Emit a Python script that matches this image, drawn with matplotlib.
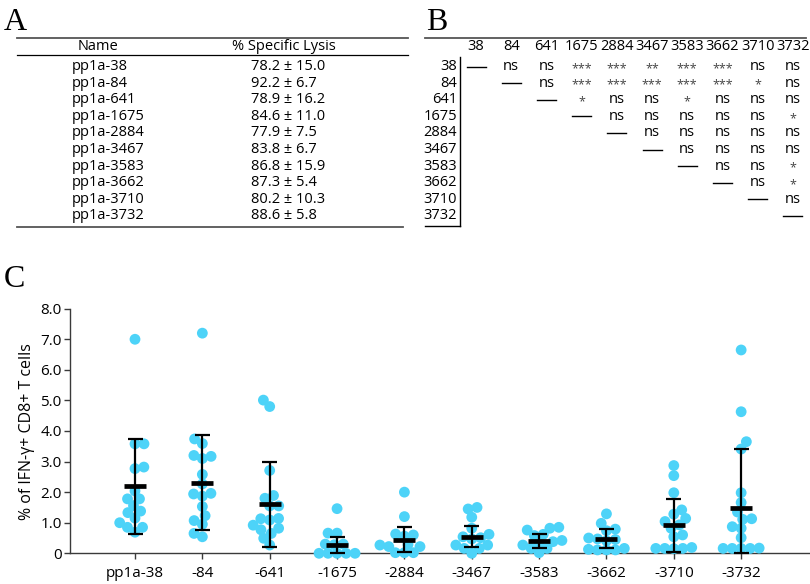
import numpy as np
import matplotlib
matplotlib.use("Agg")
import matplotlib.pyplot as plt
from matplotlib.lines import Line2D

# ---------------- data ----------------
peptides = ['pp1a-38', 'pp1a-84', 'pp1a-641', 'pp1a-1675', 'pp1a-2884',
            'pp1a-3467', 'pp1a-3583', 'pp1a-3662', 'pp1a-3710', 'pp1a-3732']
lysis_text = ['78.2 \u00b1 15.0', '92.2 \u00b1 6.7', '78.9 \u00b1 16.2', '84.6 \u00b1 11.0',
              '77.9 \u00b1 7.5', '83.8 \u00b1 6.7', '86.8 \u00b1 15.9', '87.3 \u00b1 5.4',
              '80.2 \u00b1 10.3', '88.6 \u00b1 5.8']
short_ids = ['38', '84', '641', '1675', '2884', '3467', '3583', '3662', '3710', '3732']
# upper triangle of significance table (row i, columns i+1 .. end)
sig_rows = [
    ['ns', 'ns', '***', '***', '**', '***', '***', 'ns', 'ns'],
    ['ns', '***', '***', '***', '***', '***', '*', 'ns'],
    ['*', 'ns', 'ns', '*', 'ns', 'ns', 'ns'],
    ['ns', 'ns', 'ns', 'ns', 'ns', '*'],
    ['ns', 'ns', 'ns', 'ns', 'ns'],
    ['ns', 'ns', 'ns', 'ns'],
    ['ns', 'ns', '*'],
    ['ns', '*'],
    ['ns'],
    [],
]

xlabels = ['pp1a-38', '-84', '-641', '-1675', '-2884', '-3467', '-3583', '-3662', '-3710', '-3732']
v38 = [7.0, 3.58, 3.58, 2.82, 2.77, 2.04, 1.78, 1.78, 1.56, 1.38, 1.33, 1.15, 1.0, 0.85, 0.85, 0.69]
v84 = [7.2, 3.74, 3.59, 3.2, 3.17, 3.1, 2.58, 2.27, 1.96, 1.94, 1.87, 1.53, 1.23, 1.07, 0.95, 0.65, 0.54]
v641 = [5.01, 4.8, 2.71, 1.89, 1.8, 1.55, 1.55, 1.14, 1.13, 1.09, 0.92, 0.82, 0.77, 0.65, 0.49, 0.27]
v1675 = [1.46, 0.66, 0.66, 0.3, 0.3, 0.28, 0.0, 0.0, 0.0, 0.0, 0.0]
v2884 = [2.0, 1.2, 0.63, 0.6, 0.56, 0.29, 0.27, 0.22, 0.22, 0.02, 0.02, 0.02]
v3467 = [1.5, 1.45, 1.18, 0.82, 0.62, 0.54, 0.51, 0.47, 0.27, 0.27, 0.16, 0.16, 0.0]
v3583 = [0.85, 0.82, 0.76, 0.62, 0.58, 0.42, 0.38, 0.33, 0.27, 0.16, 0.16, 0.02]
v3662 = [1.29, 0.98, 0.79, 0.74, 0.5, 0.47, 0.45, 0.41, 0.16, 0.11, 0.11, 0.11, 0.13]
v3710 = [2.87, 2.54, 1.98, 1.42, 1.28, 1.14, 1.04, 0.93, 0.82, 0.6, 0.54, 0.19, 0.16, 0.16, 0.16, 0.15]
v3732 = [6.65, 4.63, 3.65, 3.41, 1.98, 1.66, 1.35, 1.13, 1.11, 0.87, 0.82, 0.51, 0.17, 0.16, 0.16, 0.16, 0.16]
group_values = [v38, v84, v641, v1675, v2884, v3467, v3583, v3662, v3710, v3732]
means = [2.19, 2.31, 1.60, 0.27, 0.45, 0.54, 0.39, 0.47, 0.92, 1.48]
sds = [1.56, 1.56, 1.40, 0.27, 0.41, 0.34, 0.23, 0.31, 0.87, 1.93]
yticks = [0, 1, 2, 3, 4, 5, 6, 7, 8]
ytick_labels = ['0', '1.0', '2.0', '3.0', '4.0', '5.0', '6.0', '7.0', '8.0']

# ---------------- figure ----------------
W, H = 810, 584
fig = plt.figure(figsize=(W / 100, H / 100), dpi=100)
SANS = ['Open Sans', 'DejaVu Sans']
SERIF = ['Liberation Serif', 'DejaVu Serif']
TFS = 10.5

def fx(x):
    return x / W

def fy(y):
    return 1 - y / H

def hline(x0, x1, y, lw=1.0, color='black'):
    fig.add_artist(Line2D([fx(x0), fx(x1)], [fy(y), fy(y)], lw=lw, color=color,
                          transform=fig.transFigure))

def vline(x, y0, y1, lw=1.0, color='black'):
    fig.add_artist(Line2D([fx(x), fx(x)], [fy(y0), fy(y1)], lw=lw, color=color,
                          transform=fig.transFigure))

def txt(x, y, s, ha='left', size=TFS, **kw):
    fig.text(fx(x), fy(y), s, ha=ha, va='center', fontsize=size, family=SANS, **kw)

# panel letters
for lab, x, y in [('A', 4, 22), ('B', 426, 22), ('C', 4, 280)]:
    fig.text(fx(x), fy(y), lab, ha='left', va='center', fontsize=23, family=SERIF)

row_y0, row_dy = 66.5, 16.6
header_y = 47

# ---- table A ----
hline(17, 408, 38, lw=1.3, color='#555555')
hline(17, 408, 55, lw=0.9)
txt(98, header_y, 'Name', ha='center')
txt(284, header_y, '% Specific Lysis', ha='center')
for i, (p, s) in enumerate(zip(peptides, lysis_text)):
    y = row_y0 + row_dy * i
    txt(72, y, p)
    txt(251, y, s)
hline(17, 403, row_y0 + row_dy * 9.65, lw=1.3, color='#555555')

# ---- table B ----
col_x0, col_dx = 476, 35.2
hline(425, 806, 38, lw=1.3, color='#555555')
for j, c in enumerate(short_ids):
    txt(col_x0 + col_dx * j, header_y, c, ha='center')
bottom_B = row_y0 + row_dy * 9.6
vline(460, 57, bottom_B, lw=1.0)
hline(425, 460, bottom_B, lw=1.0)
for i, c in enumerate(short_ids):
    y = row_y0 + row_dy * i
    txt(457, y, c, ha='right')
    cx = col_x0 + col_dx * i
    hline(cx - 9.5, cx + 9.5, y, lw=1.0)
    for k, s in enumerate(sig_rows[i]):
        x = col_x0 + col_dx * (i + 1 + k)
        if 'n' in s:
            txt(x, y, s, ha='center')
        else:
            fig.text(fx(x), fy(y + 2), s, ha='center', va='center', fontsize=9,
                     family=SANS, color='#444444')

# ---- panel C ----
ax_left, ax_right, ax_top, ax_bot = 70, 810, 308.7, 553.3
ax = fig.add_axes([fx(ax_left), fy(ax_bot), fx(ax_right) - fx(ax_left), (ax_bot - ax_top) / H])
x_step_px = 67.35
first_px = 135
xmin = -(first_px - ax_left) / x_step_px
xmax = (ax_right - first_px) / x_step_px
ax.set_xlim(xmin, xmax)
ax.set_ylim(0, 8)
ypx = (ax_bot - ax_top) / 8.0

marker_d = 10.8
color_pts = '#4DD3F8'

def swarm(vals, d):
    ys = np.asarray(vals, float) * ypx
    order = np.argsort(ys)
    placed = []
    xs = np.zeros(len(ys))
    for n, i in enumerate(order):
        y = ys[i]
        cands = [0.0]
        for (px, py) in placed:
            dy = abs(py - y)
            if dy < d:
                dx = np.sqrt(d * d - dy * dy)
                cands += [px - dx, px + dx]
        sign = 1 if n % 2 else -1
        cands = sorted(cands, key=lambda c: (round(abs(c), 6), sign * c))
        for c in cands:
            if all((c - px) ** 2 + (y - py) ** 2 >= d * d - 1e-6 for px, py in placed):
                xs[i] = c
                placed.append((c, y))
                break
    return xs / x_step_px

s_area = (marker_d * 72 / 100) ** 2
for gi, vals in enumerate(group_values):
    offs = swarm(vals, 9.0)
    ax.scatter(gi + offs, vals, s=s_area, color=color_pts, edgecolors='none',
               zorder=3, clip_on=False)

cap_half = 7.5 / x_step_px
mean_half = 11 / x_step_px
for gi, (m, sd) in enumerate(zip(means, sds)):
    lo = max(m - sd, 0.0)
    hi = m + sd
    ax.vlines(gi, lo, hi, color='black', lw=1.6, zorder=4, clip_on=False)
    ax.hlines([lo, hi], gi - cap_half, gi + cap_half, color='black', lw=1.6, zorder=4, clip_on=False)
    ax.hlines(m, gi - mean_half, gi + mean_half, color='black', lw=3.4, zorder=5)

for side in ['top', 'right']:
    ax.spines[side].set_visible(False)
for side in ['left', 'bottom']:
    ax.spines[side].set_color('#3a3a3a')
    ax.spines[side].set_linewidth(1.0)
ax.set_yticks(yticks)
ax.set_yticklabels(ytick_labels, family=SANS, fontsize=11)
ax.set_xticks(range(len(xlabels)))
ax.set_xticklabels(xlabels, family=SANS, fontsize=11)
ax.tick_params(axis='y', length=4.5, width=1.0, pad=1.5, color='#3a3a3a')
ax.tick_params(axis='x', length=4, width=1.0, pad=5, color='#3a3a3a')
ax.patch.set_alpha(0)

fig.text(fx(27), fy(432), '% of IFN-\u03b3+ CD8+ T cells', rotation=90, ha='center',
         va='center', fontsize=11.5, family=SANS)

fig.savefig('out.png', dpi=100)
